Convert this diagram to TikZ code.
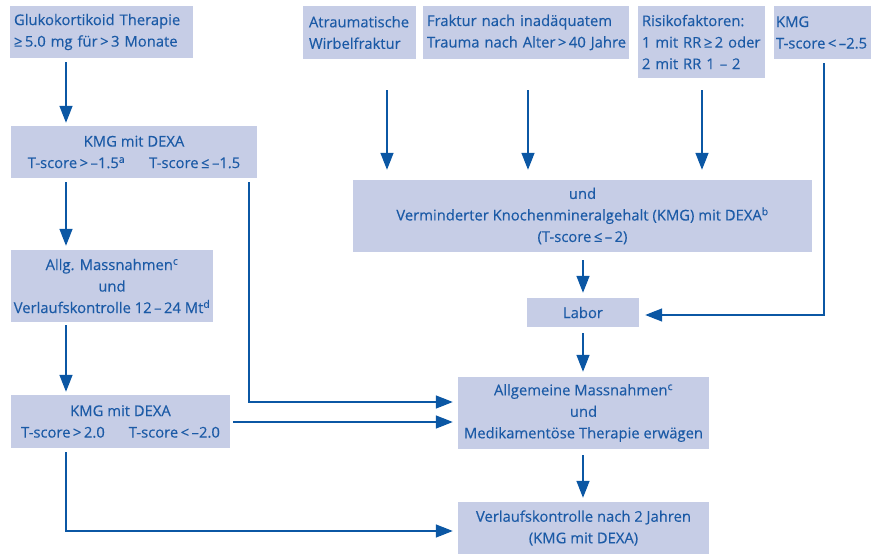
\documentclass[tikz,border=0pt]{standalone}
\usepackage{fontspec}
\setmainfont{Open Sans}[FakeBold=0.3]
\usetikzlibrary{arrows.meta,calc}
\definecolor{boxfill}{HTML}{C6CDE6}
\definecolor{txtc}{HTML}{1B5AA6}
\definecolor{arrc}{HTML}{0B57A4}
\tikzset{
  box/.style={fill=boxfill, text=txtc, inner sep=0pt, font=\fontsize{14.8}{21.5}\selectfont},
  lbox/.style={box, align=left},
  cbox/.style={box, align=center},
  arr/.style={draw=arrc, line width=1.5pt, -{Triangle[length=17pt,width=13pt]}}
}
\begin{document}
\begin{tikzpicture}[x=1pt,y=-1pt]
\useasboundingbox (0,0) rectangle (871,554);
% column x positions of connectors
\coordinate (xL) at (66,0);
\coordinate (xM) at (249,0);
\coordinate (xA) at (387,0);
\coordinate (xF) at (528,0);
\coordinate (xR) at (702,0);
\coordinate (xK) at (824,0);
\coordinate (xC) at (583,0);

% left column
\node[lbox, minimum width=181pt, minimum height=52pt, text width=175pt, inner xsep=4pt] (glu) at (101.5,32)
  {\mbox{Glukokortikoid Therapie}\\ \mbox{≥\,5.0 mg für\,>\,3 Monate}};
\node[cbox, minimum width=246pt, minimum height=52pt] (kmgA) at (134,152)
  {KMG mit DEXA\\ T-score\,>\,–1.5\textsuperscript{a}\hspace{24pt}T-score\,≤\,–1.5};
\node[cbox, minimum width=202pt, minimum height=72pt] (allg) at (112,286)
  {Allg. Massnahmen\textsuperscript{c}\\ und\\ Verlaufskontrolle 12\,–\,24 Mt\textsuperscript{d}};
\node[cbox, minimum width=219pt, minimum height=53pt] (kmgB) at (120.5,421.5)
  {KMG mit DEXA\\ T-score\,>\,2.0\hspace{24pt}T-score\,<\,–2.0};

% top row
\node[lbox, minimum width=109pt, minimum height=53pt, text width=101pt, inner xsep=6pt] (atr) at (359.5,32.5)
  {\mbox{Atraumatische}\\ \mbox{Wirbelfraktur}};
\node[lbox, minimum width=204pt, minimum height=53pt, text width=198pt, inner xsep=4pt] (frak) at (526,32.5)
  {\mbox{Fraktur nach inadäquatem}\\ \mbox{Trauma nach Alter\,>\,40 Jahre}};
\node[lbox, minimum width=125pt, minimum height=72pt, text width=119pt, inner xsep=4pt] (risk) at (701.5,42)
  {\mbox{Risikofaktoren:}\\ \mbox{1 mit RR\,≥\,2 oder}\\ \mbox{2 mit RR 1 – 2}};
\node[lbox, minimum width=97pt, minimum height=53pt, text width=93pt, inner xsep=2pt] (kmgC) at (822.5,32.5)
  {KMG\\ \mbox{T-score\,<\,–2.5}};

% right column
\node[cbox, minimum width=459pt, minimum height=72pt] (und) at (582.5,216)
  {und\\ Verminderter Knochenmineralgehalt (KMG) mit DEXA\textsuperscript{b}\\ (T-score\,≤\,–\,2)};
\node[cbox, minimum width=112pt, minimum height=29pt] (labor) at (583,312.5) {Labor};
\node[cbox, minimum width=251pt, minimum height=72pt] (allgm) at (583.5,413)
  {Allgemeine Massnahmen\textsuperscript{c}\\ und\\ Medikamentöse Therapie erwägen};
\node[cbox, minimum width=251pt, minimum height=52pt] (verl) at (583.5,528)
  {Verlaufskontrolle nach 2 Jahren\\ (KMG mit DEXA)};

% connectors
\draw[arr, shorten <=4pt, shorten >=3pt] (glu.south -| xL) -- (kmgA.north -| xL);
\draw[arr, shorten <=4pt, shorten >=4pt] (kmgA.south -| xL) -- (allg.north -| xL);
\draw[arr, shorten <=3pt, shorten >=3pt] (allg.south -| xL) -- (kmgB.north -| xL);
\draw[arr, shorten <=4pt, shorten >=5pt] (kmgB.south -| xL) |- ([yshift=-3pt]verl.west);
\draw[arr, shorten <=4pt, shorten >=5pt] (kmgA.south -| xM) |- ([yshift=11pt]allgm.west);
\draw[arr, shorten <=3pt, shorten >=5pt] ([yshift=-0.5pt]kmgB.east) -- ([yshift=-0.5pt]kmgB.east -| allgm.west);

\draw[arr, shorten <=31pt, shorten >=10pt] (atr.south -| xA) -- (und.north -| xA);
\draw[arr, shorten <=31pt, shorten >=10pt] (frak.south -| xF) -- (und.north -| xF);
\draw[arr, shorten <=12pt, shorten >=10pt] (risk.south -| xR) -- (und.north -| xR);
\draw[arr, shorten <=4pt, shorten >=6pt] (kmgC.south -| xK) |- ([yshift=-2.5pt]labor.east);

\draw[arr, shorten <=8pt, shorten >=5pt] (und.south -| xC) -- (labor.north -| xC);
\draw[arr, shorten <=6pt, shorten >=5pt] (labor.south -| xC) -- (allgm.north -| xC);
\draw[arr, shorten <=6pt, shorten >=4pt] (allgm.south -| xC) -- (verl.north -| xC);
\end{tikzpicture}
\end{document}
